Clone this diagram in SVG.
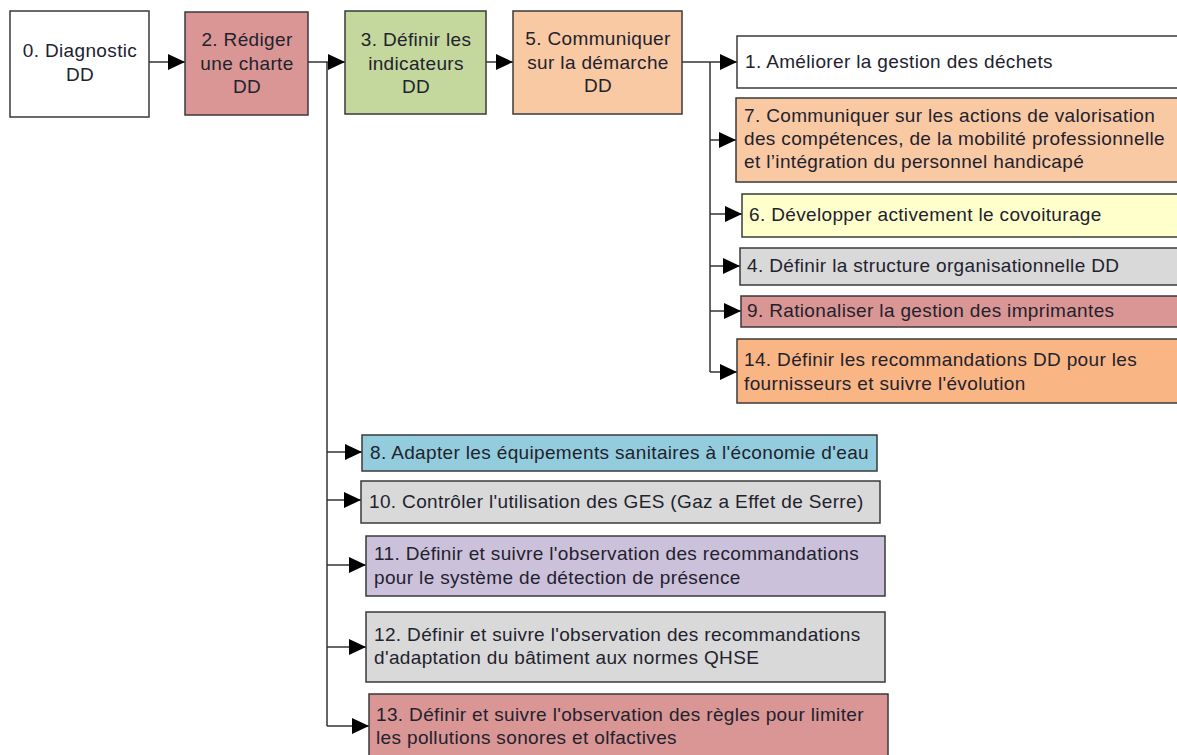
<svg xmlns="http://www.w3.org/2000/svg" width="1177" height="755" viewBox="0 0 1177 755">
<style>
.box{stroke:#3a3a3a;stroke-width:1.5}
.t{font-family:"Liberation Sans",Arial,sans-serif;font-size:19px;fill:#22222e;letter-spacing:0.35px}
.c{text-anchor:middle}
.conn{fill:none;stroke:#333;stroke-width:1.5}
</style>
<defs>
<marker id="ah" markerUnits="userSpaceOnUse" markerWidth="18" markerHeight="16" refX="17" refY="8" orient="auto">
<path d="M0,0 L17,8 L0,16 z" fill="#000"/>
</marker>
</defs>
<rect width="1177" height="755" fill="#fff"/>
<g id="connectors" class="conn">
<path d="M149,62 H185" marker-end="url(#ah)"/>
<path d="M308,62 H345" marker-end="url(#ah)"/>
<path d="M486,62 H513" marker-end="url(#ah)"/>
<path d="M682,62 H737" marker-end="url(#ah)"/>
<path d="M710,62 V372"/>
<path d="M710,140 H736" marker-end="url(#ah)"/>
<path d="M710,214 H742" marker-end="url(#ah)"/>
<path d="M710,266 H740" marker-end="url(#ah)"/>
<path d="M710,311 H741" marker-end="url(#ah)"/>
<path d="M710,372 H737" marker-end="url(#ah)"/>
<path d="M327,62 V726"/>
<path d="M327,452 H362" marker-end="url(#ah)"/>
<path d="M327,500 H361" marker-end="url(#ah)"/>
<path d="M327,565 H366" marker-end="url(#ah)"/>
<path d="M327,647 H366" marker-end="url(#ah)"/>
<path d="M327,726 H369" marker-end="url(#ah)"/>
</g>
<g id="n0"><rect class="box" x="10" y="11" width="139" height="106" fill="#ffffff"/>
<text class="t c" x="80" y="57">0. Diagnostic</text><text class="t c" x="80" y="81">DD</text></g>
<g id="n2"><rect class="box" x="185" y="12" width="123" height="103" fill="#d99694"/>
<text class="t c" x="247" y="46">2. Rédiger</text><text class="t c" x="247" y="70">une charte</text><text class="t c" x="247" y="93">DD</text></g>
<g id="n3"><rect class="box" x="345" y="11" width="141" height="103" fill="#c4d79c"/>
<text class="t c" x="416" y="46">3. Définir les</text><text class="t c" x="416" y="70">indicateurs</text><text class="t c" x="416" y="93">DD</text></g>
<g id="n5"><rect class="box" x="513" y="11" width="169" height="103" fill="#f9c9a3"/>
<text class="t c" x="598" y="45">5. Communiquer</text><text class="t c" x="598" y="69">sur la démarche</text><text class="t c" x="598" y="92">DD</text></g>
<g id="n1"><rect class="box" x="737" y="36" width="460" height="52" fill="#ffffff"/>
<text class="t" x="745" y="68">1. Améliorer la gestion des déchets</text></g>
<g id="n7"><rect class="box" x="736" y="98" width="460" height="84" fill="#f9c9a3"/>
<text class="t" x="744" y="122">7. Communiquer sur les actions de valorisation</text><text class="t" x="744" y="145">des compétences, de la mobilité professionnelle</text><text class="t" x="744" y="168">et l’intégration du personnel handicapé</text></g>
<g id="n6"><rect class="box" x="742" y="194" width="460" height="43" fill="#ffffcc"/>
<text class="t" x="749" y="221">6. Développer activement le covoiturage</text></g>
<g id="n4"><rect class="box" x="740" y="248" width="460" height="37" fill="#d9d9d9"/>
<text class="t" x="747" y="272">4. Définir la structure organisationnelle DD</text></g>
<g id="n9"><rect class="box" x="741" y="296" width="460" height="31" fill="#d99694"/>
<text class="t" x="747" y="317">9. Rationaliser la gestion des imprimantes</text></g>
<g id="n14"><rect class="box" x="737" y="339" width="460" height="64" fill="#fab584"/>
<text class="t" x="744" y="366">14. Définir les recommandations DD pour les</text><text class="t" x="744" y="390">fournisseurs et suivre l'évolution</text></g>
<g id="n8"><rect class="box" x="362" y="435" width="515" height="36" fill="#93cddd"/>
<text class="t" x="370" y="459">8. Adapter les équipements sanitaires à l'économie d'eau</text></g>
<g id="n10"><rect class="box" x="361" y="481" width="519" height="42" fill="#d9d9d9"/>
<text class="t" x="369" y="508">10. Contrôler l'utilisation des GES (Gaz a Effet de Serre)</text></g>
<g id="n11"><rect class="box" x="366" y="536" width="519" height="60" fill="#ccc1da"/>
<text class="t" x="374" y="560">11. Définir et suivre l'observation des recommandations</text><text class="t" x="374" y="584">pour le système de détection de présence</text></g>
<g id="n12"><rect class="box" x="366" y="612" width="519" height="70" fill="#d9d9d9"/>
<text class="t" x="374" y="641">12. Définir et suivre l'observation des recommandations</text><text class="t" x="374" y="664">d'adaptation du bâtiment aux normes QHSE</text></g>
<g id="n13"><rect class="box" x="369" y="694" width="519" height="80" fill="#d99694"/>
<text class="t" x="376" y="721">13. Définir et suivre l'observation des règles pour limiter</text><text class="t" x="376" y="744">les pollutions sonores et olfactives</text></g>
</svg>
